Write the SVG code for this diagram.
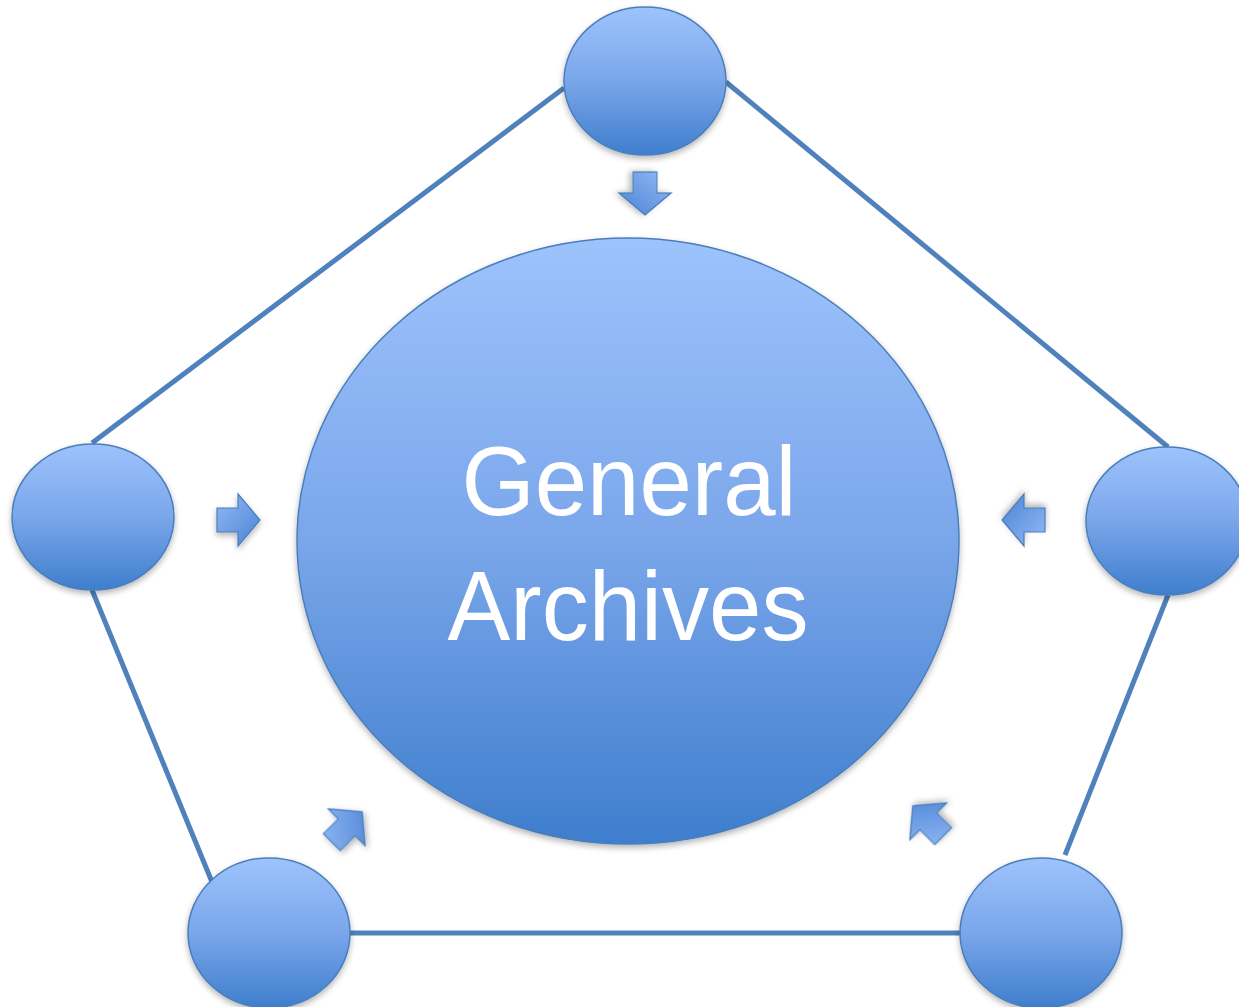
<svg xmlns="http://www.w3.org/2000/svg" width="1239" height="1007" viewBox="0 0 1239 1007">
<defs>
<linearGradient id="g" x1="0" y1="0" x2="0" y2="1">
<stop offset="0" stop-color="#9DC3FC"/>
<stop offset="0.5" stop-color="#7AA6EA"/>
<stop offset="1" stop-color="#3E7ECD"/>
</linearGradient>
<linearGradient id="ga" x1="0" y1="0" x2="1" y2="1">
<stop offset="0" stop-color="#93BAF5"/>
<stop offset="1" stop-color="#4A82D4"/>
</linearGradient>
<filter id="sh" x="-20%" y="-20%" width="140%" height="150%">
<feGaussianBlur in="SourceAlpha" stdDeviation="3"/>
<feOffset dx="0" dy="3" result="b"/>
<feComponentTransfer><feFuncA type="linear" slope="0.3"/></feComponentTransfer>
<feMerge><feMergeNode/><feMergeNode in="SourceGraphic"/></feMerge>
</filter>
<path id="arr" d="M-20,-12 H1 V-26 L23,0 L1,26 V12 H-20 Z"/>
</defs>
<style>
.ln{stroke:#4F81BD;stroke-width:5;fill:none}
.nd{fill:url(#g);stroke:#4A7EBB;stroke-width:1.5}
.ar{fill:url(#ga);stroke:#4A7EBB;stroke-width:1.2}
.tx{font-family:"Liberation Sans",Arial,sans-serif;font-size:98px;fill:#FFFFFF;text-anchor:middle}
</style>
<g id="connectors">
<line class="ln" x1="564" y1="88" x2="92" y2="443"/>
<line class="ln" x1="726" y1="82" x2="1168" y2="447"/>
<line class="ln" x1="92" y1="590" x2="212" y2="882"/>
<line class="ln" x1="1168" y1="595" x2="1065" y2="855"/>
<line class="ln" x1="350" y1="933" x2="960" y2="933"/>
</g>
<g id="node-top"><ellipse class="nd" filter="url(#sh)" cx="645" cy="81" rx="81" ry="74"/></g>
<g id="node-left"><ellipse class="nd" filter="url(#sh)" cx="93" cy="517" rx="81" ry="73"/></g>
<g id="node-right"><ellipse class="nd" filter="url(#sh)" cx="1167" cy="521" rx="81" ry="74"/></g>
<g id="node-bottom-left"><ellipse class="nd" filter="url(#sh)" cx="269" cy="933" rx="81" ry="75"/></g>
<g id="node-bottom-right"><ellipse class="nd" filter="url(#sh)" cx="1041" cy="933" rx="81" ry="75"/></g>
<g id="node-center">
<ellipse class="nd" filter="url(#sh)" cx="628" cy="541" rx="331" ry="303"/>
<text class="tx" x="629" y="515" textLength="335" lengthAdjust="spacingAndGlyphs">General</text>
<text class="tx" x="628" y="640" textLength="361" lengthAdjust="spacingAndGlyphs">Archives</text>
</g>
<g id="arrows">
<use href="#arr" class="ar" filter="url(#sh)" transform="translate(645,192) rotate(90)"/>
<use href="#arr" class="ar" filter="url(#sh)" transform="translate(237,520)"/>
<use href="#arr" class="ar" filter="url(#sh)" transform="translate(1025,520) rotate(180)"/>
<use href="#arr" class="ar" filter="url(#sh)" transform="translate(346,828) rotate(-45)"/>
<use href="#arr" class="ar" filter="url(#sh)" transform="translate(929,822) rotate(-135)"/>
</g>
</svg>
